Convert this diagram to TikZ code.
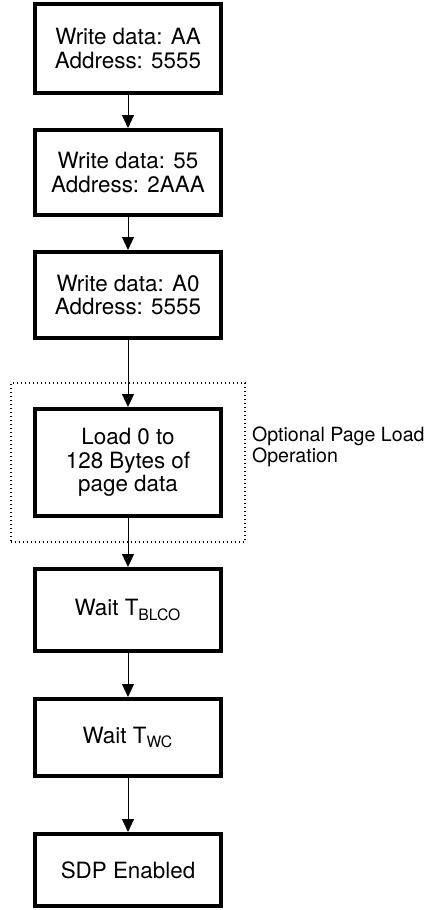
\documentclass[tikz,border=0pt]{standalone}
\usepackage{fontspec}
\setmainfont{TeX Gyre Heros}
\usetikzlibrary{positioning,fit,arrows.meta}

\begin{document}
\begin{tikzpicture}[>={Triangle[length=6.5pt,width=6pt]},
  stepbox/.style={draw,line width=2pt,minimum width=93pt,align=center,font=\fontsize{11.2}{11.7}\selectfont},
  flow/.style={->,line width=0.5pt}]
\useasboundingbox (0,0) rectangle (214.5pt,-455pt);

\node[stepbox,minimum height=44.5pt] (wr1) at (64pt,-24.25pt) {Write data: AA\\Address: 5555};
\node[stepbox,minimum height=42.5pt,below=16.5pt of wr1] (wr2) {Write data: 55\\Address: 2AAA};
\node[stepbox,minimum height=43pt,below=16.5pt of wr2] (wr3) {Write data: A0\\Address: 5555};
\node[stepbox,minimum height=53.5pt,below=33.5pt of wr3] (load) {Load 0 to\\128 Bytes of\\page data};
\node[stepbox,minimum height=41pt,below=24.5pt of load] (blco) {Wait T\textsubscript{BLCO}};
\node[stepbox,minimum height=38.5pt,below=22pt of blco] (twc) {Wait T\textsubscript{WC}};
\node[stepbox,minimum height=36pt,below=27pt of twc] (sdp) {SDP Enabled};

% optional page load
\node[draw,line width=0.6pt,dash pattern=on 0.6pt off 1.4pt,fit=(load),inner xsep=11pt,inner ysep=12pt] (opt) {};
\node[anchor=north west,inner sep=0pt,align=left,font=\fontsize{9.8}{10.5}\selectfont] (optlbl)
  at ([xshift=3pt,yshift=-22pt]opt.north east) {Optional Page Load\\Operation};

\draw[flow] (wr1) -- (wr2);
\draw[flow] (wr2) -- (wr3);
\draw[flow] (wr3) -- (load);
\draw[flow] (load) -- (blco);
\draw[flow] (blco) -- (twc);
\draw[flow] (twc) -- (sdp);
\end{tikzpicture}
\end{document}
